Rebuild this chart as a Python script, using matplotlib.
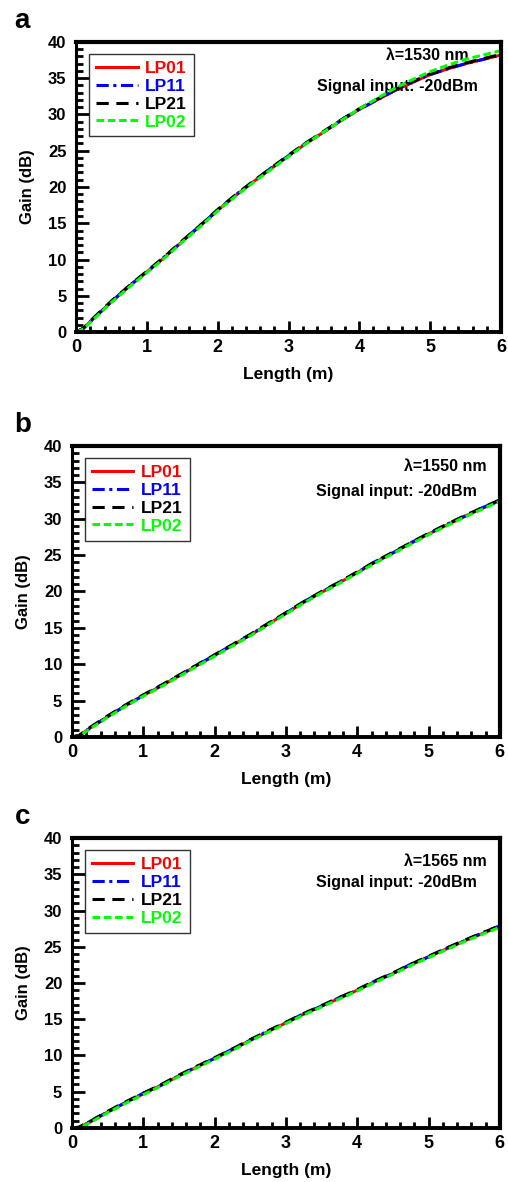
import matplotlib.pyplot as plt
from matplotlib.ticker import MultipleLocator

plt.rcParams['font.family'] = ['Liberation Sans', 'DejaVu Sans']
plt.rcParams['font.weight'] = 'bold'

length = [0, 0.1, 0.25, 0.5, 0.75, 1.0, 1.25, 1.5, 1.75, 2.0, 2.25, 2.5, 2.75,
          3.0, 3.25, 3.5, 3.75, 4.0, 4.25, 4.5, 4.75, 5.0, 5.25, 5.5, 5.75, 6.0]

# panel a, lambda = 1530 nm
gain_a_lp01 = [0, 0.5, 1.9, 4.2, 6.3, 8.3, 10.3, 12.5, 14.6, 16.8, 18.8, 20.7, 22.5,
               24.3, 26.0, 27.6, 29.2, 30.7, 32.0, 33.3, 34.4, 35.5, 36.3, 37.0, 37.6, 38.2]
gain_a_lp11 = [0, 0.5, 1.9, 4.2, 6.4, 8.3, 10.4, 12.5, 14.7, 16.8, 18.9, 20.7, 22.6,
               24.3, 26.1, 27.6, 29.3, 30.7, 32.0, 33.3, 34.5, 35.5, 36.3, 37.0, 37.6, 38.2]
gain_a_lp21 = [0, 0.5, 2.0, 4.3, 6.4, 8.4, 10.4, 12.6, 14.7, 16.9, 18.9, 20.8, 22.6,
               24.4, 26.1, 27.7, 29.3, 30.8, 32.1, 33.4, 34.5, 35.6, 36.4, 37.1, 37.7, 38.3]
gain_a_lp02 = [0, 0.4, 1.8, 4.1, 6.2, 8.2, 10.2, 12.4, 14.5, 16.7, 18.7, 20.6, 22.4,
               24.2, 26.0, 27.6, 29.2, 30.8, 32.2, 33.6, 34.8, 35.9, 36.8, 37.6, 38.2, 38.8]

# panel b, lambda = 1550 nm
gain_b_lp01 = [0, 0.2, 1.2, 2.8, 4.3, 5.7, 7.0, 8.4, 9.8, 11.2, 12.6, 14.0, 15.5,
               17.0, 18.5, 19.9, 21.2, 22.6, 24.0, 25.3, 26.6, 27.9, 29.1, 30.3, 31.4, 32.5]
gain_b_lp11 = [0, 0.2, 1.2, 2.8, 4.3, 5.7, 7.1, 8.4, 9.9, 11.2, 12.7, 14.0, 15.6,
               17.0, 18.6, 19.9, 21.3, 22.6, 24.1, 25.3, 26.7, 27.9, 29.2, 30.3, 31.5, 32.5]
gain_b_lp21 = [0, 0.2, 1.3, 2.9, 4.4, 5.8, 7.1, 8.5, 9.9, 11.3, 12.7, 14.1, 15.6,
               17.1, 18.6, 20.0, 21.3, 22.7, 24.1, 25.4, 26.7, 28.0, 29.2, 30.4, 31.5, 32.6]
gain_b_lp02 = [0, 0.1, 1.1, 2.7, 4.2, 5.6, 6.9, 8.3, 9.7, 11.1, 12.5, 13.9, 15.4,
               16.9, 18.4, 19.8, 21.1, 22.5, 23.9, 25.2, 26.5, 27.8, 29.0, 30.2, 31.3, 32.4]

# panel c, lambda = 1565 nm
gain_c_lp01 = [0, 0.1, 0.8, 2.2, 3.5, 4.7, 5.9, 7.2, 8.4, 9.6, 10.8, 12.1, 13.3,
               14.5, 15.7, 16.8, 17.9, 19.0, 20.2, 21.3, 22.5, 23.6, 24.7, 25.8, 26.8, 27.8]
gain_c_lp11 = [0, 0.1, 0.9, 2.2, 3.5, 4.8, 5.9, 7.2, 8.5, 9.6, 10.9, 12.1, 13.4,
               14.5, 15.8, 16.8, 18.0, 19.0, 20.3, 21.3, 22.6, 23.6, 24.8, 25.8, 26.9, 27.9]
gain_c_lp21 = [0, 0.1, 0.9, 2.3, 3.6, 4.8, 6.0, 7.3, 8.5, 9.7, 10.9, 12.2, 13.4,
               14.6, 15.8, 16.9, 18.0, 19.1, 20.3, 21.4, 22.6, 23.7, 24.8, 25.9, 26.9, 27.9]
gain_c_lp02 = [0, 0.0, 0.7, 2.1, 3.4, 4.6, 5.8, 7.1, 8.3, 9.5, 10.7, 12.0, 13.2,
               14.4, 15.6, 16.7, 17.8, 18.9, 20.1, 21.2, 22.4, 23.5, 24.6, 25.7, 26.7, 27.7]

modes = ['LP01', 'LP11', 'LP21', 'LP02']
colors = ['#ff0000', '#0000ff', '#000000', '#00ff00']
styles = ['-', (0, (4, 1.5, 1, 1.5)), (0, (4, 2.5)), (0, (2.5, 1.2))]

panels = [
    ('a', '1530', [gain_a_lp01, gain_a_lp11, gain_a_lp21, gain_a_lp02]),
    ('b', '1550', [gain_b_lp01, gain_b_lp11, gain_b_lp21, gain_b_lp02]),
    ('c', '1565', [gain_c_lp01, gain_c_lp11, gain_c_lp21, gain_c_lp02]),
]
rects = [
    [0.150, 0.7191, 0.836, 0.2454],
    [0.1417, 0.3765, 0.8423, 0.2462],
    [0.1417, 0.0457, 0.8423, 0.2453],
]
# (x_right, y) of the wavelength note, in axes fraction
lam_pos = [(0.925, 0.955), (0.97, 0.931), (0.97, 0.92)]

fig = plt.figure(figsize=(5.08, 11.82), dpi=100)

for (letter, wl, gains), rect, lp in zip(panels, rects, lam_pos):
    ax = fig.add_axes(rect)
    for g, name, c, ls in zip(gains, modes, colors, styles):
        ax.plot(length, g, color=c, linestyle=ls, linewidth=2.2, label=name)
    ax.set_xlim(0, 6)
    ax.set_ylim(0, 40)
    ax.xaxis.set_major_locator(MultipleLocator(1))
    ax.xaxis.set_minor_locator(MultipleLocator(0.2))
    ax.yaxis.set_major_locator(MultipleLocator(5))
    ax.yaxis.set_minor_locator(MultipleLocator(1))
    ax.tick_params(which='both', direction='in', top=False, right=False, width=2)
    ax.tick_params(axis='x', which='major', length=8, pad=5, labelsize=13)
    ax.tick_params(axis='x', which='minor', length=4)
    ax.tick_params(axis='y', which='major', length=9, pad=7, labelsize=12)
    ax.tick_params(axis='y', which='minor', length=5)
    for lab in ax.get_xticklabels() + ax.get_yticklabels():
        lab.set_fontweight('bold')
    ax.spines['left'].set_linewidth(2.2)
    ax.spines['bottom'].set_linewidth(2.8)
    for side in ['top', 'right']:
        ax.spines[side].set_linewidth(3)
    ax.set_xlabel('Length (m)', fontsize=12.5, fontweight='bold', labelpad=8)
    ax.set_ylabel('Gain (dB)', fontsize=12, fontweight='bold', labelpad=9)
    leg = ax.legend(loc='upper left', fontsize=12.5, handlelength=2.4,
                    handletextpad=0.45, labelspacing=0.15, borderpad=0.4,
                    borderaxespad=0, fancybox=False, edgecolor='black',
                    labelcolor='linecolor', bbox_to_anchor=(0.03, 0.958))
    leg.get_frame().set_linewidth(1.0)
    for t in leg.get_texts():
        t.set_fontweight('bold')
    ax.text(lp[0], lp[1], '\u03bb=' + wl + ' nm', transform=ax.transAxes,
            ha='right', va='center', fontsize=11.5, fontweight='bold', zorder=0)
    ax.text(0.946, 0.845, 'Signal input: -20dBm', transform=ax.transAxes,
            ha='right', va='center', fontsize=11.5, fontweight='bold', zorder=0)
    fig.text(0.029, rect[1] + rect[3] + 0.012, letter, fontsize=20,
             fontweight='bold', ha='left', va='baseline')

fig.savefig('out.png', dpi=100)
